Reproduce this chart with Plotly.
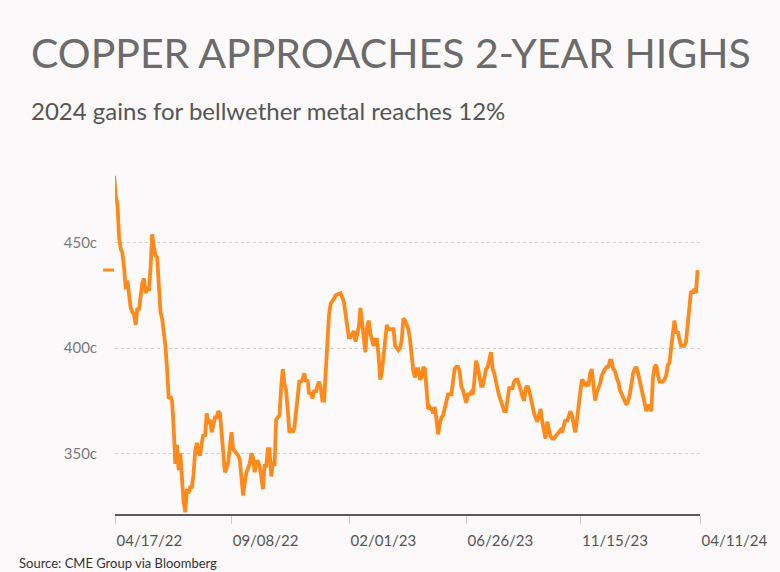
import pandas as pd
import plotly.graph_objects as go

# ---------------- data (copper price, cents per lb) ----------------
start_date = "2022-04-16"
end_date = "2024-04-08"

price_2022a = [481.7, 471.8, 468, 452, 447, 445, 438, 428, 432, 426, 419, 417, 416, 411,
               419, 418, 425, 431, 433, 426, 429, 427, 438, 454, 448, 444, 443, 428, 417,
               414, 408, 401, 390, 376, 377, 375, 362, 345, 354, 342, 350, 338, 327, 322,
               333, 331, 334, 334, 340, 351, 355, 350, 349, 355, 359, 358, 369, 364, 366,
               360, 364, 367, 367, 370, 369, 358, 347, 341, 343, 346, 353, 360, 352, 351,
               350, 349, 347, 338, 330, 336, 341, 343]
price_2022b = [345, 350, 348, 341, 346, 346, 344, 339, 333, 344, 344, 352, 352, 339, 346,
               344, 366, 367, 368, 381, 390, 383, 380, 371, 360, 361, 360, 362, 369, 378,
               384, 384, 385, 388, 384, 385, 378, 379, 376, 380, 379, 382, 384, 381, 375,
               375, 390, 406, 416, 421, 422, 423.5, 425, 425.5, 426, 426, 424, 422, 416,
               410, 405, 405, 407, 408, 403, 406, 410, 419, 412, 404, 398, 410, 413, 407,
               404, 401, 404, 404, 396, 385, 389, 397, 405, 411, 409, 409, 409, 409, 401, 400]
price_2023 = [399, 400, 404, 414, 413, 411, 409, 404, 396, 389, 386, 390, 390, 385, 386,
              391, 390, 382, 371, 372, 371, 369, 372, 366, 359, 364, 367, 368, 372, 376,
              378, 378, 378, 384, 390, 391, 391, 389, 382, 380, 376, 374, 378, 378, 379,
              378, 385, 394, 391, 387, 382, 382, 387, 390, 391, 395, 398, 390, 388, 384,
              380, 377, 375, 373, 370, 370, 377, 381, 381, 381, 384, 385, 385, 383, 380,
              377, 375, 381, 382, 380, 377, 373, 369, 367, 365, 368, 371, 365, 360, 357]
price_2024 = [365, 362, 358, 357, 357, 358, 359, 360, 361, 360, 364, 366, 365, 368, 370,
              368, 363, 360, 366, 374, 379, 385, 384, 382, 383, 382, 388, 390, 380, 375,
              379, 381, 383, 387, 389, 390, 391, 391, 394, 394, 390, 389, 386, 384, 380,
              378, 376, 374, 373, 375, 378, 383, 388, 390, 391, 388, 384, 380, 376, 372,
              370, 373, 372, 370, 386, 391, 392, 387, 384, 384, 384, 385, 387, 392, 393,
              400, 409, 413, 407, 408, 404, 401, 401, 401, 403, 411, 422, 427, 426, 428,
              426, 437]

prices = price_2022a + price_2022b + price_2023 + price_2024
dates = pd.date_range(start_date, end_date, periods=len(prices))

tick_dates = ["2022-04-17", "2022-09-08", "2023-02-01", "2023-06-26", "2023-11-15", "2024-04-11"]
tick_labels = ["04/17/22", "09/08/22", "02/01/23", "06/26/23", "11/15/23", "04/11/24"]
y_ticks = [350, 400, 450]
y_tick_labels = ["350c", "400c", "450c"]

title_text = "COPPER APPROACHES 2-YEAR HIGHS"
subtitle_text = "2024 gains for bellwether metal reaches 12%"
source_text = "Source: CME Group via Bloomberg"

# ---------------- layout geometry ----------------
W, H = 780, 572
ML, MR, MT, MB = 115, 75, 170, 58
PW, PH = W - ML - MR, H - MT - MB


def px(xp):
    return (xp - ML) / PW


def py(yp):
    return (H - MB - yp) / PH


ORANGE = "#ff8a1c"
BG = "#fbf9f9"
FONT = "Lato, 'Open Sans', sans-serif"

fig = go.Figure()
fig.add_trace(go.Scatter(
    x=dates, y=prices, mode="lines",
    line=dict(color=ORANGE, width=3.8),
    hoverinfo="skip", showlegend=False,
))

# current-level dash on the y axis
fig.add_shape(type="line", xref="paper", yref="y",
              x0=px(103), x1=px(114), y0=prices[-1], y1=prices[-1],
              line=dict(color=ORANGE, width=3))

fig.update_layout(
    width=W, height=H,
    margin=dict(l=ML, r=MR, t=MT, b=MB, pad=0),
    paper_bgcolor=BG, plot_bgcolor=BG,
    font=dict(family=FONT, color="#666666"),
    showlegend=False,
    xaxis=dict(
        type="date",
        range=["2022-04-17", "2024-04-11"],
        tickvals=tick_dates, ticktext=tick_labels,
        ticklabelposition="outside right",
        ticks="outside", ticklen=8, tickwidth=1, tickcolor="#cccccc",
        showline=True, linecolor="#5a5a5a", linewidth=2,
        showgrid=False, zeroline=False,
        tickfont=dict(size=15, color="#555555", family=FONT),
        ticklabelstandoff=12,
    ),
    yaxis=dict(
        range=[321.2, 484.5],
        tickvals=y_ticks, ticktext=y_tick_labels,
        showgrid=True, gridcolor="#d0d0d0", griddash="dot", gridwidth=1,
        showline=False, zeroline=False, ticks="",
        tickfont=dict(size=15, color="#7a7a7a", family=FONT),
        ticklabelstandoff=17,
    ),
    annotations=[
        dict(text=title_text, xref="paper", yref="paper", x=px(28), y=py(52),
             xanchor="left", yanchor="middle", showarrow=False,
             font=dict(size=41, color="#6b6b6b", family=FONT)),
        dict(text=subtitle_text, xref="paper", yref="paper", x=px(28), y=py(111),
             xanchor="left", yanchor="middle", showarrow=False,
             font=dict(size=24, color="#555555", family=FONT)),
        dict(text=source_text, xref="paper", yref="paper", x=px(16), y=py(563),
             xanchor="left", yanchor="middle", showarrow=False,
             font=dict(size=13, color="#333333", family=FONT)),
    ],
)

fig.write_html("out.html")
